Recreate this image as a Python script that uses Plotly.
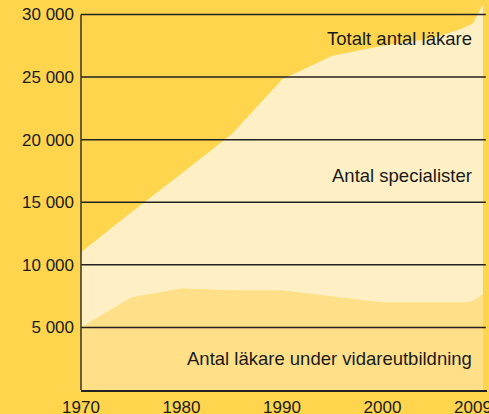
import plotly.graph_objects as go

# Data
years = [1970, 1975, 1980, 1985, 1990, 1995, 2000, 2005, 2008, 2009, 2010]
under_training = [5000, 7400, 8100, 7950, 7950, 7470, 7000, 7000, 7000, 7100, 7650]
total_doctors = [11000, 14200, 17300, 20450, 24800, 26700, 27500, 28100, 28900, 29300, 30800]

y_ticks = [5000, 10000, 15000, 20000, 25000, 30000]
y_ticktext = ["5 000", "10 000", "15 000", "20 000", "25 000", "30 000"]
x_ticks = [1970, 1980, 1990, 2000, 2009]
x_ticktext = ["1970", "1980", "1990", "2000", "2009"]

label_total = "Totalt antal läkare"
label_spec = "Antal specialister"
label_under = "Antal läkare under vidareutbildning"

YELLOW = "#FFD54D"
CREAM = "#FEF0C4"
MEDIUM = "#FFE088"
INK = "#1a1a1a"
FONT = "Liberation Sans, Arial, sans-serif"

fig = go.Figure()
fig.add_trace(go.Scatter(x=years, y=under_training, mode="lines", fill="tozeroy",
                         fillcolor=MEDIUM, line=dict(width=0), hoverinfo="skip",
                         showlegend=False))
fig.add_trace(go.Scatter(x=years, y=total_doctors, mode="lines", fill="tonexty",
                         fillcolor=CREAM, line=dict(width=0), hoverinfo="skip",
                         showlegend=False))

# gridlines drawn above the filled areas
for v in y_ticks:
    fig.add_shape(type="line", xref="paper", yref="y", x0=0, x1=0.997, y0=v, y1=v,
                  line=dict(color="#222222", width=1.5), layer="above")
# left axis line from 0 to top tick
fig.add_shape(type="line", xref="paper", yref="y", x0=0, x1=0, y0=0, y1=y_ticks[-1],
              line=dict(color="#333333", width=1.5), layer="above")

annots = [(label_total, 28100), (label_spec, 17100), (label_under, 2500)]
for txt, yv in annots:
    fig.add_annotation(text=txt, xref="paper", yref="y", x=0.9677, y=yv,
                       xanchor="right", yanchor="middle", showarrow=False,
                       font=dict(family=FONT, size=18.5, color=INK))

fig.update_layout(
    width=489, height=414,
    margin=dict(l=81, r=2, t=2, b=24, autoexpand=False),
    paper_bgcolor=YELLOW, plot_bgcolor=YELLOW,
    font=dict(family=FONT, size=17, color=INK),
    showlegend=False,
    xaxis=dict(range=[1970, 2010.4], tickvals=x_ticks, ticktext=x_ticktext,
               showgrid=False, zeroline=False, showline=True, linecolor="#222222",
               linewidth=1.5, ticks="", ticklabelstandoff=1, automargin=False,
               ticklabeloverflow="allow", fixedrange=True),
    yaxis=dict(range=[0, 31000], tickvals=y_ticks, ticktext=y_ticktext,
               showgrid=False, zeroline=False, showline=False, ticks="",
               ticklabelstandoff=6, automargin=False, fixedrange=True),
)

fig.write_html("out.html", config={"displayModeBar": False},
               post_script="document.body.style.margin='0';document.body.style.background='#FFD54D';")
